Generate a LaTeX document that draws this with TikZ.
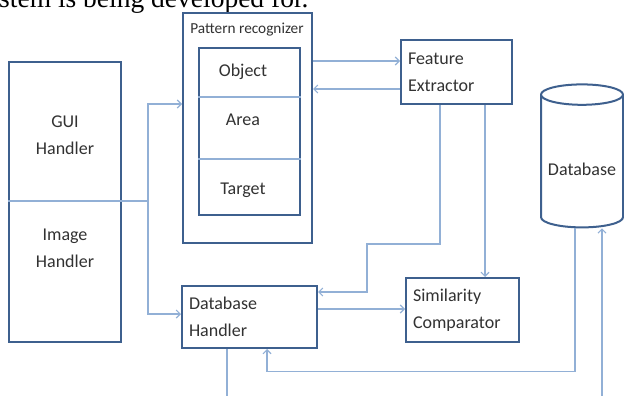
\documentclass[tikz,border=0pt]{standalone}
\usepackage{fontspec}
\setmainfont{Carlito}
\newfontfamily\bodyfont{Liberation Serif}
\usetikzlibrary{arrows.meta,shapes.geometric}
\definecolor{BoxBlue}{RGB}{62,96,142}
\definecolor{LinkBlue}{RGB}{146,176,214}
\definecolor{Ink}{RGB}{50,50,50}
\tikzset{
  >={Straight Barb[length=4pt,width=8pt]},
  box/.style={draw=BoxBlue,line width=2pt,fill=white,text=Ink,font=\fontsize{18}{27}\selectfont,inner sep=0pt},
  textbox/.style={box,align=left,text width=#1,inner xsep=7pt},
  lbl/.style={text=Ink,font=\fontsize{18}{27}\selectfont,align=center,inner sep=0pt},
  link/.style={draw=LinkBlue,line width=1.1pt},
  part/.style={draw=LinkBlue,line width=1.1pt},
  store/.style={cylinder,shape border rotate=90,aspect=.3,draw=BoxBlue,line width=2pt,fill=white,text=Ink,font=\fontsize{18}{27}\selectfont,inner sep=0pt}
}
\begin{document}
\begin{tikzpicture}[x=1pt,y=-1pt]
  \useasboundingbox (0,0) rectangle (624,396);
  \node[anchor=base west,inner sep=0pt,font=\bodyfont\fontsize{27.5}{30}\selectfont] (txt) at (-1,8) {stem is being developed for.};

  % handlers on the left
  \node[box,minimum width=112pt,minimum height=280pt] (hnd) at (65,202) {};
  \node[lbl] (gui) at (65,135) {GUI\\Handler};
  \node[lbl] (img) at (65,248) {Image\\Handler};

  % pattern recognizer with its three parts
  \node[box,minimum width=129pt,minimum height=230pt] (pr) at (247.5,128) {};
  \node[lbl,font=\fontsize{15.3}{16}\selectfont] (prt) at (247,30) {Pattern recognizer};
  \node[box,minimum width=101pt,minimum height=167pt] (pin) at (249.5,131.5) {};
  \draw[part] (pin.west |- 0,97) -- (pin.east |- 0,97);
  \draw[part] (pin.west |- 0,159) -- (pin.east |- 0,159);
  \node[lbl] (obj) at (243,72) {Object};
  \node[lbl] (area) at (243,120) {Area};
  \node[lbl] (tgt) at (243,190) {Target};

  \node[textbox=97pt,minimum height=64pt] (fe) at (456.5,72) {Feature\\Extractor};
  \node[textbox=121pt,minimum height=62pt] (dbh) at (249.5,317) {Database\\Handler};
  \node[textbox=99pt,minimum height=64pt] (sc) at (462.5,310) {Similarity\\Comparator};
  \node[store,minimum width=82pt,minimum height=143pt,text height=28pt,text depth=0pt] (db) at (582,161.5) {Database};

  % connectors
  \coordinate (jn) at (148,201);
  \draw[link] (hnd.west |- jn) -- (jn);
  \draw[link,->] (jn) |- ([yshift=24pt]pr.west);
  \draw[link,->] (jn) |- ([yshift=3pt]dbh.west);

  \coordinate (pf) at ([yshift=11pt]fe.west);
  \coordinate (fp) at ([yshift=-17pt]fe.west);
  \draw[link,<-] (pf) -- (pf -| pr.east);
  \draw[link,->] (fp) -- (fp -| pr.east);

  \coordinate (fe1) at ([xshift=-16.5pt]fe.south);
  \coordinate (fe2) at ([xshift=28.5pt]fe.south);
  \draw[link,->] (fe1) -- ++(0,139) -- ++(-73,0) |- ([yshift=25pt]dbh.east);
  \draw[link,->] (fe2) -- (fe2 |- sc.north);

  \coordinate (ds) at ([yshift=8pt]dbh.east);
  \draw[link,->] (ds) -- (ds -| sc.west);

  \draw[link,->] ([xshift=-7pt]db.south) -- ++(0,143) -| ([xshift=17.5pt]dbh.south);
  \coordinate (dbin) at (602,396);
  \draw[link,->] (dbin) -- (dbin |- db.south);
  \coordinate (dbout) at (227,396);
  \draw[link] ([xshift=-22.5pt]dbh.south) -- (dbout);
\end{tikzpicture}
\end{document}
